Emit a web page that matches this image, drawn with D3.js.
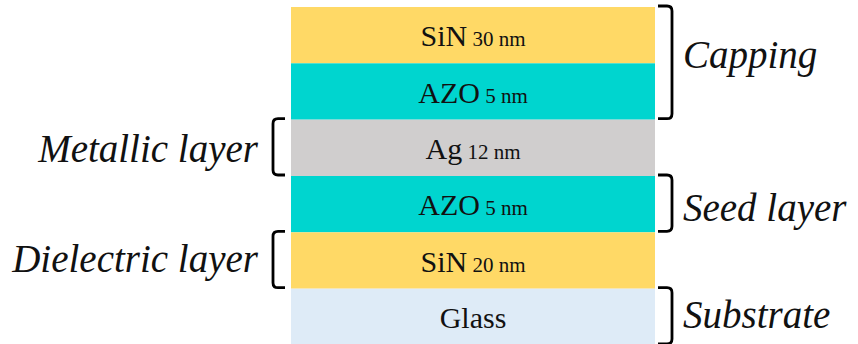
<!DOCTYPE html>
<html><head><meta charset="utf-8">
<script src="https://cdn.jsdelivr.net/npm/d3@7"></script>
<style>html,body{margin:0;padding:0;background:#fff;}svg{display:block;}</style>
</head><body>
<script>
// Layer stack (top to bottom)
const layerNames = ["SiN", "AZO", "Ag", "AZO", "SiN", "Glass"];
const layerThickness = ["30 nm", "5 nm", "12 nm", "5 nm", "20 nm", ""];
const layerColors = ["#FFD966", "#00D5CF", "#D0CECE", "#00D5CF", "#FFD966", "#DEEBF7"];

// Bracket annotations
const bracketLabels = ["Capping", "Metallic layer", "Seed layer", "Dielectric layer", "Substrate"];
const bracketFrom = [0, 2, 3, 4, 5];
const bracketTo = [1, 2, 3, 4, 5];
const bracketSide = ["right", "left", "right", "left", "right"];

// layout nudges for label baselines (px)
const labelNudge = [-6, 3, 6, 0, 0];

const W = 858, H = 344;
const svg = d3.select("body").append("svg").attr("width", W).attr("height", H);

const x = d3.scaleLinear().domain([0, 1]).range([291, 655]);
const y = d3.scaleBand().domain(d3.range(layerNames.length)).range([7, 345]).padding(0);

const font = "'Liberation Serif', serif";

const g = svg.append("g");
g.selectAll("rect").data(layerNames).join("rect")
  .attr("x", x(0)).attr("width", x(1) - x(0))
  .attr("y", (d, i) => y(i)).attr("height", y.bandwidth())
  .attr("fill", (d, i) => layerColors[i]);

const t = g.selectAll("text.layer").data(layerNames).join("text")
  .attr("class", "layer")
  .attr("x", (x(0) + x(1)) / 2)
  .attr("y", (d, i) => y(i) + y.bandwidth() / 2 + 11)
  .attr("text-anchor", "middle")
  .attr("font-family", font)
  .attr("fill", "#111");
t.append("tspan").attr("font-size", 30).text(d => d);
t.append("tspan").attr("font-size", 21).text((d, i) => layerThickness[i] ? "\u00a0" + layerThickness[i] : "");

// Brackets
const bracket = svg.append("g");
const r = 5;
bracketLabels.forEach((lab, k) => {
  const y0 = y(bracketFrom[k]) - 1;
  const y1 = y(bracketTo[k]) + y.bandwidth() - 1;
  let xl, xv, path;
  if (bracketSide[k] === "right") {
    xl = x(1) + 3; xv = x(1) + 17;
    path = `M${xl},${y0} L${xv - r},${y0} Q${xv},${y0} ${xv},${y0 + r} L${xv},${y1 - r} Q${xv},${y1} ${xv - r},${y1} L${xl},${y1}`;
  } else {
    xl = x(0) - 6; xv = x(0) - 18;
    path = `M${xl},${y0} L${xv + r},${y0} Q${xv},${y0} ${xv},${y0 + r} L${xv},${y1 - r} Q${xv},${y1} ${xv + r},${y1} L${xl},${y1}`;
  }
  bracket.append("path").attr("d", path).attr("fill", "none")
    .attr("stroke", "#000").attr("stroke-width", 2.8);
  const cy = (y0 + y1) / 2 + 12 + labelNudge[k];
  bracket.append("text")
    .attr("x", bracketSide[k] === "right" ? xv + 11 : xv - 15)
    .attr("y", cy)
    .attr("text-anchor", bracketSide[k] === "right" ? "start" : "end")
    .attr("font-family", font).attr("font-style", "italic")
    .attr("font-size", 39).attr("fill", "#111")
    .text(lab);
});
</script>
</body></html>
